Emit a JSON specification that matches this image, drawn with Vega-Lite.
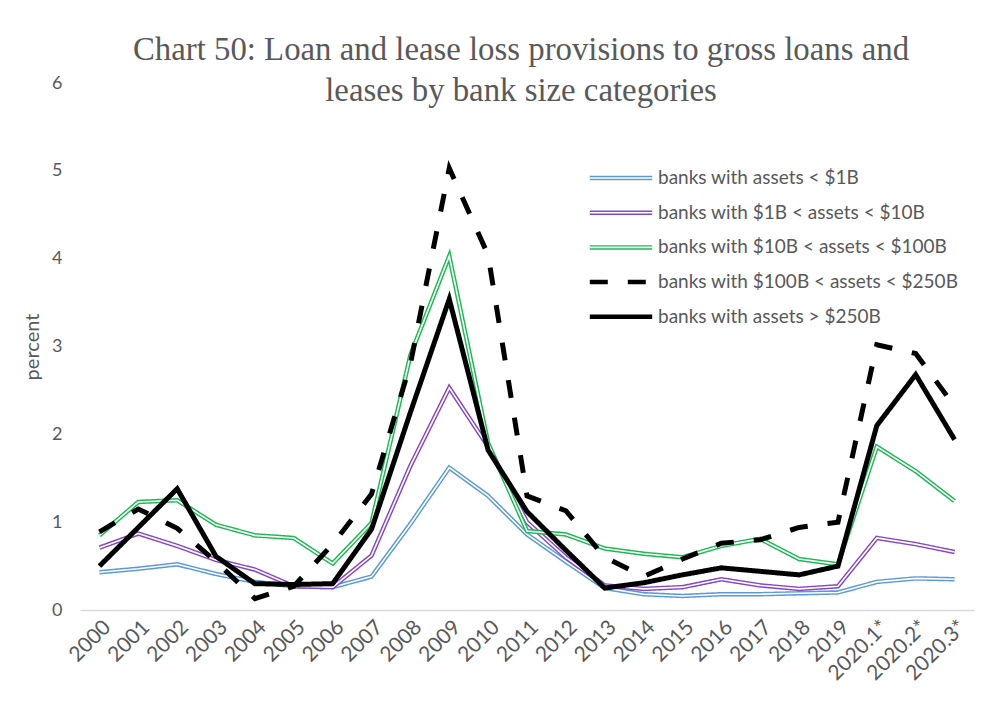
{
  "$schema": "https://vega.github.io/schema/vega-lite/v6.json",
  "width": 894,
  "height": 527,
  "autosize": {"type": "none"},
  "padding": {"left": 80, "top": 83, "right": 29, "bottom": 105},
  "background": "white",
  "config": {"view": {"stroke": null}, "font": "Lato"},
  "title": {
    "text": ["Chart 50: Loan and lease loss provisions to gross loans and", "leases by bank size categories"],
    "font": "Liberation Serif",
    "fontSize": 32.8,
    "fontWeight": "normal",
    "color": "#595959",
    "lineHeight": 41,
    "anchor": "middle",
    "frame": "group",
    "offset": -34,
    "dx": -6
  },
  "data": {
    "values": [
      {"year": "2000", "banks with assets  < $1B": 0.43, "banks with $1B < assets < $10B": 0.71, "banks with $10B < assets < $100B": 0.85, "banks with $100B < assets < $250B": 0.89, "banks with assets > $250B": 0.50},
      {"year": "2001", "banks with assets  < $1B": 0.47, "banks with $1B < assets < $10B": 0.87, "banks with $10B < assets < $100B": 1.23, "banks with $100B < assets < $250B": 1.15, "banks with assets > $250B": 0.94},
      {"year": "2002", "banks with assets  < $1B": 0.52, "banks with $1B < assets < $10B": 0.73, "banks with $10B < assets < $100B": 1.25, "banks with $100B < assets < $250B": 0.93, "banks with assets > $250B": 1.38},
      {"year": "2003", "banks with assets  < $1B": 0.41, "banks with $1B < assets < $10B": 0.57, "banks with $10B < assets < $100B": 0.97, "banks with $100B < assets < $250B": 0.55, "banks with assets > $250B": 0.61},
      {"year": "2004", "banks with assets  < $1B": 0.32, "banks with $1B < assets < $10B": 0.46, "banks with $10B < assets < $100B": 0.85, "banks with $100B < assets < $250B": 0.13, "banks with assets > $250B": 0.30},
      {"year": "2005", "banks with assets  < $1B": 0.27, "banks with $1B < assets < $10B": 0.27, "banks with $10B < assets < $100B": 0.82, "banks with $100B < assets < $250B": 0.27, "banks with assets > $250B": 0.29},
      {"year": "2006", "banks with assets  < $1B": 0.26, "banks with $1B < assets < $10B": 0.26, "banks with $10B < assets < $100B": 0.53, "banks with $100B < assets < $250B": 0.75, "banks with assets > $250B": 0.30},
      {"year": "2007", "banks with assets  < $1B": 0.38, "banks with $1B < assets < $10B": 0.62, "banks with $10B < assets < $100B": 0.99, "banks with $100B < assets < $250B": 1.32, "banks with assets > $250B": 0.92},
      {"year": "2008", "banks with assets  < $1B": 0.98, "banks with $1B < assets < $10B": 1.64, "banks with $10B < assets < $100B": 2.90, "banks with $100B < assets < $250B": 2.80, "banks with assets > $250B": 2.25},
      {"year": "2009", "banks with assets  < $1B": 1.62, "banks with $1B < assets < $10B": 2.53, "banks with $10B < assets < $100B": 4.03, "banks with $100B < assets < $250B": 5.03, "banks with assets > $250B": 3.54},
      {"year": "2010", "banks with assets  < $1B": 1.30, "banks with $1B < assets < $10B": 1.86, "banks with $10B < assets < $100B": 1.90, "banks with $100B < assets < $250B": 4.04, "banks with assets > $250B": 1.82},
      {"year": "2011", "banks with assets  < $1B": 0.86, "banks with $1B < assets < $10B": 1.00, "banks with $10B < assets < $100B": 0.90, "banks with $100B < assets < $250B": 1.30, "banks with assets > $250B": 1.12},
      {"year": "2012", "banks with assets  < $1B": 0.55, "banks with $1B < assets < $10B": 0.60, "banks with $10B < assets < $100B": 0.86, "banks with $100B < assets < $250B": 1.13, "banks with assets > $250B": 0.68},
      {"year": "2013", "banks with assets  < $1B": 0.25, "banks with $1B < assets < $10B": 0.28, "banks with $10B < assets < $100B": 0.70, "banks with $100B < assets < $250B": 0.60, "banks with assets > $250B": 0.25},
      {"year": "2014", "banks with assets  < $1B": 0.18, "banks with $1B < assets < $10B": 0.24, "banks with $10B < assets < $100B": 0.64, "banks with $100B < assets < $250B": 0.38, "banks with assets > $250B": 0.31},
      {"year": "2015", "banks with assets  < $1B": 0.16, "banks with $1B < assets < $10B": 0.26, "banks with $10B < assets < $100B": 0.60, "banks with $100B < assets < $250B": 0.58, "banks with assets > $250B": 0.40},
      {"year": "2016", "banks with assets  < $1B": 0.18, "banks with $1B < assets < $10B": 0.35, "banks with $10B < assets < $100B": 0.73, "banks with $100B < assets < $250B": 0.76, "banks with assets > $250B": 0.48},
      {"year": "2017", "banks with assets  < $1B": 0.18, "banks with $1B < assets < $10B": 0.28, "banks with $10B < assets < $100B": 0.81, "banks with $100B < assets < $250B": 0.80, "banks with assets > $250B": 0.44},
      {"year": "2018", "banks with assets  < $1B": 0.19, "banks with $1B < assets < $10B": 0.24, "banks with $10B < assets < $100B": 0.58, "banks with $100B < assets < $250B": 0.94, "banks with assets > $250B": 0.40},
      {"year": "2019", "banks with assets  < $1B": 0.20, "banks with $1B < assets < $10B": 0.27, "banks with $10B < assets < $100B": 0.52, "banks with $100B < assets < $250B": 1.00, "banks with assets > $250B": 0.50},
      {"year": "2020.1*", "banks with assets  < $1B": 0.32, "banks with $1B < assets < $10B": 0.82, "banks with $10B < assets < $100B": 1.86, "banks with $100B < assets < $250B": 3.02, "banks with assets > $250B": 2.10},
      {"year": "2020.2*", "banks with assets  < $1B": 0.36, "banks with $1B < assets < $10B": 0.75, "banks with $10B < assets < $100B": 1.58, "banks with $100B < assets < $250B": 2.92, "banks with assets > $250B": 2.68},
      {"year": "2020.3*", "banks with assets  < $1B": 0.35, "banks with $1B < assets < $10B": 0.66, "banks with $10B < assets < $100B": 1.24, "banks with $100B < assets < $250B": 2.32, "banks with assets > $250B": 1.94}
    ]
  },
  "transform": [
    {"fold": ["banks with assets  < $1B", "banks with $1B < assets < $10B", "banks with $10B < assets < $100B", "banks with $100B < assets < $250B", "banks with assets > $250B"], "as": ["series", "value"]}
  ],
  "encoding": {
    "x": {
      "field": "year",
      "type": "ordinal",
      "sort": null,
      "scale": {"type": "point", "padding": 0.5},
      "axis": {"title": null, "labelAngle": -45, "labelFontSize": 21, "labelColor": "#595959", "labelFont": "Lato", "ticks": false, "domainColor": "#d9d9d9", "domainWidth": 1.5, "labelPadding": 6, "grid": false}
    },
    "y": {
      "field": "value",
      "type": "quantitative",
      "scale": {"domain": [0, 6]},
      "axis": {"title": "percent", "titleFontWeight": "normal", "titleFontSize": 20, "titleColor": "#595959", "titleFont": "Lato", "labelFontSize": 18, "labelColor": "#595959", "labelFont": "Lato", "domain": false, "ticks": false, "grid": false, "values": [0, 1, 2, 3, 4, 5, 6], "labelPadding": 18, "titlePadding": 9}
    }
  },
  "layer": [
    {
      "transform": [{"filter": "datum.series == 'banks with assets  < $1B'"}],
      "mark": {"type": "line", "strokeWidth": 4.5},
      "encoding": {
        "color": {
          "field": "series", "type": "nominal",
          "scale": {"domain": ["banks with assets  < $1B", "banks with $1B < assets < $10B", "banks with $10B < assets < $100B", "banks with $100B < assets < $250B", "banks with assets > $250B"], "range": ["#5b9bd5", "#8548c4", "#1db954", "#000000", "#000000"]},
          "legend": {"orient": "none", "legendX": 526.5, "legendY": 80.5, "title": null, "symbolType": "M-2.6,0H2.6", "symbolSize": 576, "symbolStrokeWidth": 4.5, "labelFontSize": 19, "labelColor": "#595959", "labelFont": "Lato", "labelLimit": 400, "rowPadding": 9.7, "labelOffset": 22.5}
        },
        "strokeDash": {
          "field": "series", "type": "nominal",
          "scale": {"domain": ["banks with assets  < $1B", "banks with $1B < assets < $10B", "banks with $10B < assets < $100B", "banks with $100B < assets < $250B", "banks with assets > $250B"], "range": [[1, 0], [1, 0], [1, 0], [18, 20], [1, 0]]},
          "legend": {"orient": "none", "legendX": 526.5, "legendY": 80.5, "title": null, "symbolType": "M-2.6,0H2.6", "symbolSize": 576, "symbolStrokeWidth": 4.5, "labelFontSize": 19, "labelColor": "#595959", "labelFont": "Lato", "labelLimit": 400, "rowPadding": 9.7, "labelOffset": 22.5}
        }
      }
    },
    {
      "transform": [{"filter": "datum.series == 'banks with assets  < $1B'"}],
      "mark": {"type": "line", "strokeWidth": 1.6},
      "encoding": {
        "stroke": {
          "field": "series", "type": "nominal",
          "scale": {"domain": ["banks with assets  < $1B", "banks with $1B < assets < $10B", "banks with $10B < assets < $100B"], "range": ["#ffffff", "#ffffff", "#ffffff"]},
          "legend": {"orient": "none", "legendX": 526.5, "legendY": 80.5, "title": null, "symbolType": "M-2.286,0H2.286", "symbolSize": 745.29, "symbolStrokeWidth": 1.6, "labelFontSize": 19, "labelOpacity": 0, "labelFont": "Lato", "labelLimit": 400, "rowPadding": 9.7, "labelOffset": 22.5}
        }
      }
    },
    {
      "transform": [{"filter": "datum.series == 'banks with $1B < assets < $10B'"}],
      "mark": {"type": "line", "strokeWidth": 4.5},
      "encoding": {"color": {"field": "series", "type": "nominal"}, "strokeDash": {"field": "series", "type": "nominal"}}
    },
    {
      "transform": [{"filter": "datum.series == 'banks with $1B < assets < $10B'"}],
      "mark": {"type": "line", "strokeWidth": 1.6},
      "encoding": {"stroke": {"field": "series", "type": "nominal"}}
    },
    {
      "transform": [{"filter": "datum.series == 'banks with $10B < assets < $100B'"}],
      "mark": {"type": "line", "strokeWidth": 4.5},
      "encoding": {"color": {"field": "series", "type": "nominal"}, "strokeDash": {"field": "series", "type": "nominal"}}
    },
    {
      "transform": [{"filter": "datum.series == 'banks with $10B < assets < $100B'"}],
      "mark": {"type": "line", "strokeWidth": 1.6},
      "encoding": {"stroke": {"field": "series", "type": "nominal"}}
    },
    {
      "transform": [{"filter": "datum.series == 'banks with $100B < assets < $250B'"}],
      "mark": {"type": "line", "strokeWidth": 5},
      "encoding": {"color": {"field": "series", "type": "nominal"}, "strokeDash": {"field": "series", "type": "nominal"}}
    },
    {
      "transform": [{"filter": "datum.series == 'banks with assets > $250B'"}],
      "mark": {"type": "line", "strokeWidth": 5},
      "encoding": {"color": {"field": "series", "type": "nominal"}, "strokeDash": {"field": "series", "type": "nominal"}}
    }
  ]
}
